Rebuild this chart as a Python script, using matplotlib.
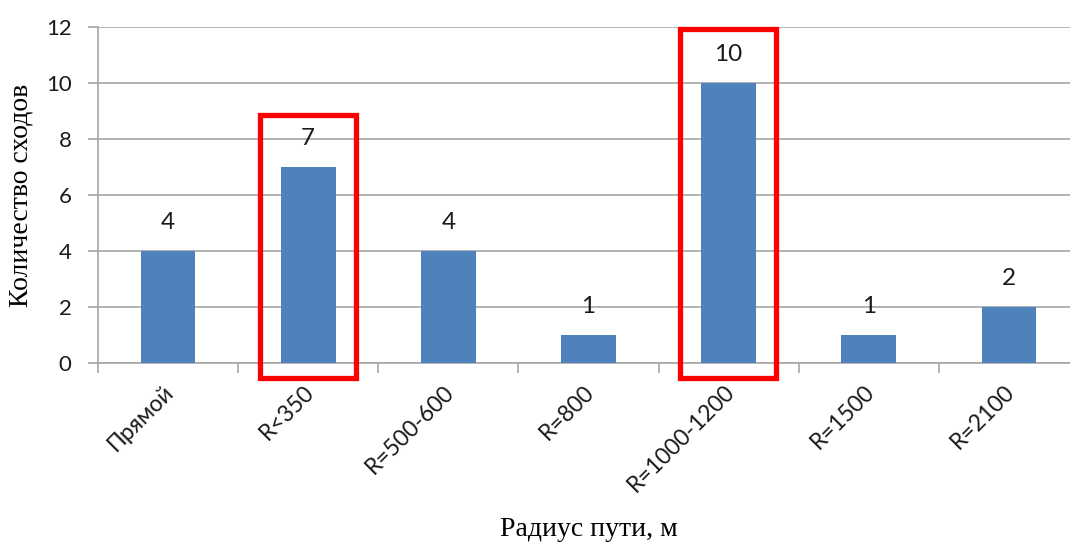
import matplotlib
matplotlib.use("Agg")
import matplotlib.pyplot as plt
from matplotlib.patches import Rectangle
from matplotlib.transforms import ScaledTranslation

categories = ["Прямой", "R<350", "R=500-600", "R=800", "R=1000-1200", "R=1500", "R=2100"]
counts = [4, 7, 4, 1, 10, 1, 2]
highlighted = ["R<350", "R=1000-1200"]
y_ticks = [0, 2, 4, 6, 8, 10, 12]

BAR_COLOR = "#4F81BD"
GRID_COLOR = "#A6A6A6"
TEXT_COLOR = "#1a1a1a"
SANS = "Lato"
SERIF = "Liberation Serif"

W, H = 1070, 545
fig = plt.figure(figsize=(W / 100, H / 100), dpi=100)
# plot area: left edge at x=98, bottom at y=363, top at y=27, 140.2 px per category
left, right, top, bottom = 98, 1079, 27, 363
ax = fig.add_axes([left / W, (H - bottom) / H, (right - left) / W, (bottom - top) / H])

x = list(range(len(categories)))
ax.bar(x, counts, width=0.39, color=BAR_COLOR, zorder=3)

ax.set_xlim(-0.5, len(categories) - 0.5)
ax.set_ylim(0, 12)
ax.set_yticks(y_ticks)
ax.yaxis.grid(True, color=GRID_COLOR, linewidth=1.2, zorder=0)
ax.set_axisbelow(True)

for s in ("top", "right"):
    ax.spines[s].set_visible(False)
for s in ("left", "bottom"):
    ax.spines[s].set_color(GRID_COLOR)
    ax.spines[s].set_linewidth(1.2)

# category boundaries carry the x tick marks, names sit on the bar centres
ax.set_xticks([i + 0.5 for i in range(-1, len(categories))], minor=False)
ax.set_xticklabels([])
ax.set_xticks(x, minor=True)
ax.set_xticklabels(categories, minor=True, rotation=45, ha="right", va="top",
                   rotation_mode="anchor", fontsize=16.5, family=SANS, color=TEXT_COLOR)
ax.tick_params(axis="x", which="major", length=7, width=1.2, color=GRID_COLOR)
ax.tick_params(axis="x", which="minor", length=0, pad=13)
ax.tick_params(axis="y", length=7, width=1.2, color=GRID_COLOR, pad=12)
shift = ScaledTranslation(-5 / 100, 0, fig.dpi_scale_trans)
for lbl in ax.get_xticklabels(minor=True):
    lbl.set_transform(lbl.get_transform() + shift)
for lbl in ax.get_yticklabels():
    lbl.set_fontsize(16)
    lbl.set_family(SANS)
    lbl.set_color(TEXT_COLOR)

for xi, v in zip(x, counts):
    ax.annotate(str(v), (xi, v), xytext=(0, 18), textcoords="offset pixels",
                ha="center", va="bottom", fontsize=17.5, family=SANS, color=TEXT_COLOR)

# red frames around the highlighted categories
frame_top = {"R<350": 8.84, "R=1000-1200": 11.93}
for name in highlighted:
    i = categories.index(name)
    ax.add_patch(Rectangle((i - 0.345, -0.55), 0.685, frame_top[name] + 0.55,
                           fill=False, edgecolor="#FF0000", linewidth=3.8,
                           clip_on=False, zorder=5))

ax.set_ylabel("Количество сходов", family=SERIF, fontsize=20)
ax.set_xlabel("Радиус пути, м", family=SERIF, fontsize=20)
ax.xaxis.set_label_coords((589 - left) / (right - left), -(517 - bottom) / (bottom - top))
ax.yaxis.set_label_coords(-(98 - 34) / (right - left), 0.5)

fig.savefig("out.png", dpi=100)
